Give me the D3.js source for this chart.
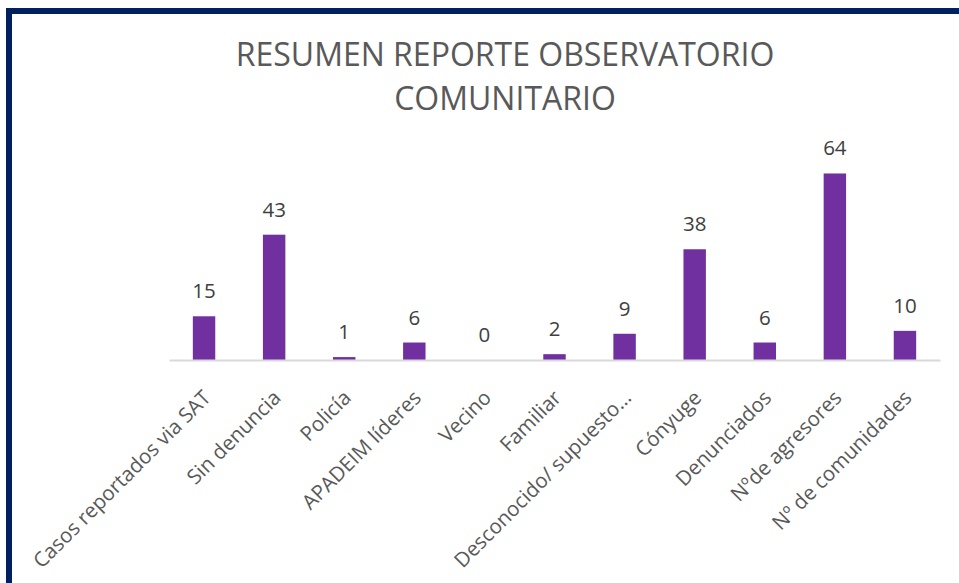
<!DOCTYPE html>
<html>
<head>
<meta charset="utf-8">
<script src="https://cdn.jsdelivr.net/npm/d3@7"></script>
<style>
  html, body { margin: 0; padding: 0; background: #fff; }
  #chart { width: 959px; height: 583px; overflow: hidden; }
</style>
</head>
<body>
<div id="chart"></div>
<script>
// chart data
const categories = [
    "Casos reportados via SAT", "Sin denuncia", "Policía", "APADEIM líderes", "Vecino",
    "Familiar", "Desconocido/ supuesto…", "Cónyuge", "Denunciados", "Nºde agresores", "Nº de comunidades"
];
const values = [15, 43, 1, 6, 0, 2, 9, 38, 6, 64, 10];
const titleLines = ["RESUMEN REPORTE OBSERVATORIO", "COMUNITARIO"];

const width = 959, height = 583;
const margin = {left: 169, right: 19, top: 156, bottom: 223};

let svg = d3.select("#chart").append("svg")
    .attr("width", width)
    .attr("height", height);

// navy frame (cropped on the right and bottom)
svg.append("rect")
    .attr("x", 9).attr("y", 11)
    .attr("width", 1000).attr("height", 1000)
    .attr("fill", "#fff")
    .attr("stroke", "#002060")
    .attr("stroke-width", 6);

// title
svg.append("text")
    .attr("x", 505)
    .attr("y", 66)
    .attr("text-anchor", "middle")
    .attr("font-family", "Open Sans")
    .attr("font-size", 32)
    .attr("fill", "#595959")
    .selectAll("tspan")
    .data(titleLines)
    .enter().append("tspan")
    .attr("x", 505)
    .attr("dy", (d, i) => i === 0 ? 0 : 44)
    .text(d => d);

// scales
let x = d3.scaleBand()
    .domain(categories)
    .range([margin.left, width - margin.right])
    .paddingInner(0.68)
    .paddingOuter(0.34);

let y = d3.scaleLinear()
    .domain([0, 70])
    .range([height - margin.bottom, margin.top]);

// bars
svg.selectAll(".bar")
    .data(values)
    .enter().append("rect")
    .attr("class", "bar")
    .attr("x", (d, i) => x(categories[i]))
    .attr("y", d => y(d))
    .attr("width", x.bandwidth())
    .attr("height", d => y(0) - y(d))
    .attr("fill", "#7030A0");

// category axis
let xAxis = svg.append("g")
    .attr("transform", "translate(0," + y(0) + ")")
    .call(d3.axisBottom(x).tickSize(0).tickPadding(0));

xAxis.select(".domain")
    .attr("stroke", "#d9d9d9")
    .attr("stroke-width", 2);

xAxis.selectAll(".tick text")
    .attr("font-family", "Open Sans")
    .attr("font-size", 20.5)
    .attr("fill", "#595959")
    .attr("text-anchor", "end")
    .attr("dy", 0)
    .attr("y", 0)
    .attr("transform", "translate(8,39) rotate(-45)");

// value labels
svg.selectAll(".value")
    .data(values)
    .enter().append("text")
    .attr("class", "value")
    .attr("x", (d, i) => x(categories[i]) + x.bandwidth() / 2)
    .attr("y", d => y(d) - 18)
    .attr("text-anchor", "middle")
    .attr("font-family", "Open Sans")
    .attr("font-size", 20.5)
    .attr("fill", "#404040")
    .text(d => d);
</script>
</body>
</html>
